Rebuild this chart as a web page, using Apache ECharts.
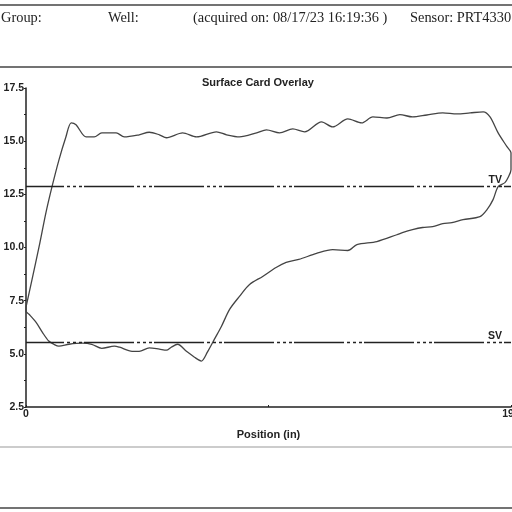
<!DOCTYPE html>
<html>
<head>
<meta charset="utf-8">
<script src="https://cdn.jsdelivr.net/npm/echarts@6/dist/echarts.min.js"></script>
<style>
  html, body { margin: 0; padding: 0; background: #fff; }
  #chart { width: 512px; height: 512px; }
</style>
</head>
<body>
<div id="chart"></div>
<script>
// surface card loop: upstroke left->right, then downstroke right->left
var position = [
  0, 2.4, 5.2, 7.9, 10.3, 13, 15.7, 17.9, 19.8, 23.8, 27, 30, 35.7, 38.9, 44.8, 48.8,
  52.8, 55.6, 62, 67.5, 75.4, 79.4, 84.5, 91.3, 95.2, 100.4, 105.6, 110.3, 117, 121.4,
  127.4, 132.9, 137.3, 142.9, 148, 153, 158.7, 165, 170.6, 175.8, 181, 183.7, 186.9,
  190.4, 192, 192,
  190.8, 189.6, 186.9, 184.9, 182.5, 179.7, 173, 168.6, 165, 161, 157, 153, 149, 146.8,
  138.9, 131, 127.4, 121.4, 115, 108, 103, 99, 93.7, 88.5, 84.5, 80.6, 77.4, 74.6,
  71.8, 69.4, 66.7, 63.5, 60, 57.5, 55.6, 52.8, 48.8, 44.8, 42, 37, 35, 30, 26, 22.2,
  17, 13, 11, 9, 6.5, 4, 1.2, 0, 0
];
var load = [
  7.2, 8.5, 10.05, 11.64, 12.86, 14.1, 15.16, 15.86, 15.77, 15.2, 15.2, 15.39, 15.39, 15.2, 15.3, 15.42,
  15.3, 15.16, 15.39, 15.2, 15.44, 15.3, 15.2, 15.39, 15.53, 15.39, 15.58, 15.44, 15.91, 15.67,
  16.05, 15.86, 16.14, 16.09, 16.25, 16.14, 16.23, 16.33, 16.28, 16.33, 16.38, 16.14, 15.39,
  14.74, 14.45, 13.66,
  13.28, 13.05, 12.86, 12.25, 11.78, 11.45, 11.31, 11.17, 11.12, 10.98, 10.94, 10.84, 10.7, 10.6,
  10.28, 10.14, 9.86, 9.9, 9.72, 9.44, 9.3, 9.06, 8.64, 8.26, 7.7, 7.09, 6.3, 5.69,
  5.08, 4.66, 4.84, 5.12, 5.45, 5.31, 5.17, 5.22, 5.28, 5.12, 5.12, 5.31, 5.36, 5.26, 5.45, 5.5,
  5.45, 5.36, 5.45, 5.6, 6.01, 6.48, 6.86, 7.0, 7.2
];
var refNames = ["TV", "SV"];
var refValues = [12.86, 5.55];
var xTicks = [0, 192];

var points = position.map(function (p, i) { return [p, load[i]]; });
var serif = "'Liberation Serif', 'DejaVu Serif', serif";
var sans = "'Liberation Sans', Arial, sans-serif";

function hline(y, color, w) {
  return { type: "line", shape: { x1: 0, y1: y, x2: 512, y2: y }, style: { stroke: color, lineWidth: w } };
}
function headText(x, s) {
  return { type: "text", x: x, y: 18, style: { text: s, font: "14.4px " + serif, fill: "#222", verticalAlign: "middle" } };
}

var chart = echarts.init(document.getElementById("chart"));
chart.setOption({
  animation: false,
  backgroundColor: "#fff",
  title: {
    text: "Surface Card Overlay",
    left: 197, top: 72,
    textStyle: { fontFamily: sans, fontSize: 11, fontWeight: "bold", color: "#222" }
  },
  graphic: [
    hline(5, "#444", 1.5),
    hline(67, "#444", 1.5),
    hline(447, "#bbb", 1.5),
    hline(508, "#444", 1.5),
    headText(1, "Group:"),
    headText(108, "Well:"),
    headText(193, "(acquired on: 08/17/23 16:19:36 )"),
    headText(410, "Sensor: PRT4330")
  ],
  grid: { left: 26, right: 1, top: 88, bottom: 105, outerBoundsMode: "none", containLabel: false },
  xAxis: {
    type: "value", min: 0, max: 192, interval: 96,
    name: "Position (in)", nameLocation: "middle", nameGap: 22,
    nameTextStyle: { fontFamily: sans, fontSize: 11, fontWeight: "bold", color: "#222" },
    axisLine: { lineStyle: { color: "#222", width: 1.5 } },
    axisTick: { inside: true, length: 2, lineStyle: { color: "#222" } },
    splitLine: { show: false },
    axisLabel: {
      margin: 2, fontFamily: sans, fontSize: 10.5, fontWeight: "bold", color: "#222",
      formatter: function (v) { return xTicks.indexOf(v) >= 0 ? String(v) : ""; }
    }
  },
  yAxis: {
    type: "value", min: 2.5, max: 17.5, interval: 2.5,
    axisLine: { show: true, lineStyle: { color: "#222", width: 1.5 } },
    axisTick: { show: true, length: 2, lineStyle: { color: "#222" } },
    minorTick: { show: true, splitNumber: 2, length: 2, lineStyle: { color: "#222" } },
    splitLine: { show: false },
    axisLabel: {
      margin: 2, fontFamily: sans, fontSize: 10.5, fontWeight: "bold", color: "#222",
      formatter: function (v) { return v.toFixed(1); }
    }
  },
  series: [{
    type: "line",
    data: points,
    smooth: 0.3,
    showSymbol: false,
    lineStyle: { color: "#444", width: 1.3 },
    markLine: {
      silent: true,
      symbol: "none",
      lineStyle: { color: "#222", width: 1.4, type: [50, 3, 3, 3, 3, 3, 3, 2], dashOffset: 12 },
      label: {
        position: "insideEndTop", distance: [9, 1],
        fontFamily: sans, fontSize: 10.5, fontWeight: "bold", color: "#222"
      },
      data: refValues.map(function (v, i) { return { yAxis: v, label: { formatter: refNames[i] } }; })
    }
  }]
});
</script>
</body>
</html>
